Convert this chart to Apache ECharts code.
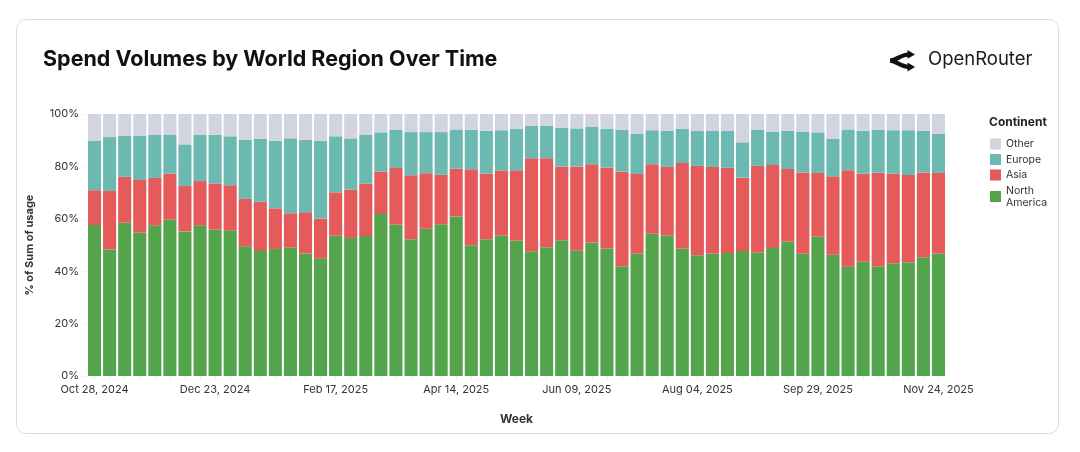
<!DOCTYPE html>
<html>
<head>
<meta charset="utf-8">
<script src="https://cdn.jsdelivr.net/npm/echarts@6/dist/echarts.min.js"></script>
<style>
  html, body { margin: 0; padding: 0; background: #ffffff; }
  #card { position: absolute; left: 16px; top: 19px; width: 1041px; height: 413px;
          border: 1px solid #dcdde0; border-radius: 10px; background: #fff; }
  #chart { position: absolute; left: 0; top: 0; width: 1080px; height: 452px; }
</style>
</head>
<body>
<div id="card"></div>
<div id="chart"></div>
<script>
const weeks = [
  'Oct 28, 2024','Nov 04, 2024','Nov 11, 2024','Nov 18, 2024','Nov 25, 2024','Dec 02, 2024','Dec 09, 2024','Dec 16, 2024',
  'Dec 23, 2024','Dec 30, 2024','Jan 06, 2025','Jan 13, 2025','Jan 20, 2025','Jan 27, 2025','Feb 03, 2025','Feb 10, 2025',
  'Feb 17, 2025','Feb 24, 2025','Mar 03, 2025','Mar 10, 2025','Mar 17, 2025','Mar 24, 2025','Mar 31, 2025','Apr 07, 2025',
  'Apr 14, 2025','Apr 21, 2025','Apr 28, 2025','May 05, 2025','May 12, 2025','May 19, 2025','May 26, 2025','Jun 02, 2025',
  'Jun 09, 2025','Jun 16, 2025','Jun 23, 2025','Jun 30, 2025','Jul 07, 2025','Jul 14, 2025','Jul 21, 2025','Jul 28, 2025',
  'Aug 04, 2025','Aug 11, 2025','Aug 18, 2025','Aug 25, 2025','Sep 01, 2025','Sep 08, 2025','Sep 15, 2025','Sep 22, 2025',
  'Sep 29, 2025','Oct 06, 2025','Oct 13, 2025','Oct 20, 2025','Oct 27, 2025','Nov 03, 2025','Nov 10, 2025','Nov 17, 2025',
  'Nov 24, 2025'
];
const northAmerica = [57.6,48.3,58.5,54.7,57.5,59.7,55.2,57.5,55.9,55.6,49.5,47.7,48.5,49.0,46.7,44.9,53.6,52.7,53.4,61.8,
  57.8,52.2,56.2,57.9,60.9,49.9,52.2,53.6,51.7,47.6,49.1,51.8,47.8,51.0,48.7,41.9,46.8,54.3,53.6,48.7,
  46.1,46.8,46.9,47.7,47.1,48.9,51.3,46.7,53.2,46.3,41.7,43.6,41.9,43.0,43.4,45.3,46.8];
const asia = [13.3,22.3,17.5,20.1,18.1,17.5,17.3,16.9,17.6,17.2,18.1,18.8,15.5,13.1,15.8,15.2,16.5,18.4,20.0,16.2,
  21.6,24.4,21.2,18.9,18.2,29.0,25.0,24.8,26.8,35.5,34.0,28.2,32.2,29.8,30.8,36.1,30.3,26.5,26.2,32.6,
  34.1,33.0,32.6,28.0,33.1,31.6,27.7,31.0,24.3,29.9,36.8,33.6,35.7,34.2,33.3,32.4,30.7];
const europe = [18.8,20.6,15.6,16.8,16.4,14.8,15.9,17.6,18.6,18.7,22.5,24.0,25.8,28.6,27.6,29.7,21.4,19.6,18.6,15.0,
  14.5,16.5,15.7,16.3,15.0,15.1,16.4,15.4,15.8,12.4,12.4,14.7,14.5,14.4,14.9,16.0,15.3,13.0,13.8,13.0,
  13.3,13.7,14.1,13.5,13.7,12.8,14.6,15.6,15.5,14.4,15.6,16.4,16.4,16.6,17.1,15.9,14.9];
const other = [10.3,8.8,8.4,8.4,8.0,8.0,11.6,8.0,7.9,8.5,9.9,9.5,10.2,9.3,9.9,10.2,8.5,9.3,8.0,7.0,
  6.1,6.9,6.9,6.9,5.9,6.0,6.4,6.2,5.7,4.5,4.5,5.3,5.5,4.8,5.6,6.0,7.6,6.2,6.4,5.7,
  6.5,6.5,6.4,10.8,6.1,6.7,6.4,6.7,7.0,9.4,5.9,6.4,6.0,6.2,6.2,6.4,7.6];
const yTicks = [0, 20, 40, 60, 80, 100];

const FONT = 'Inter, "Noto Sans", sans-serif';
const colors = { 'North America': '#54a44b', 'Asia': '#e55a5a', 'Europe': '#6cb9b1', 'Other': '#d2d5e0' };

function barSeries(name, data) {
  return {
    name, type: 'bar', stack: 'total', data,
    barCategoryGap: '13%',
    itemStyle: { color: colors[name] },
    emphasis: { disabled: true }
  };
}

const chart = echarts.init(document.getElementById('chart'), null, { renderer: 'canvas' });
chart.setOption({
  backgroundColor: 'transparent',
  animation: false,
  textStyle: { fontFamily: FONT },
  title: {
    text: 'Spend Volumes by World Region Over Time',
    left: 43, top: 49, padding: 0,
    textStyle: { fontFamily: FONT, fontSize: 21.5, fontWeight: 'bold', color: '#111' }
  },
  legend: {
    orient: 'vertical', left: 990, top: 138, padding: 0,
    itemWidth: 11, itemHeight: 11, itemGap: 3.5,
    icon: 'rect',
    data: ['Other', 'Europe', 'Asia', 'North America'],
    formatter: n => n === 'North America' ? 'North\nAmerica' : n,
    textStyle: { fontFamily: FONT, fontSize: 10.5, color: '#333', lineHeight: 12 }
  },
  graphic: [
    { type: 'text', x: 989, y: 116,
      style: { text: 'Continent', font: 'bold 12px ' + FONT, fill: '#222' } },
    { type: 'bezierCurve',
      shape: { x1: 890.2, y1: 60.6, cpx1: 897, cpy1: 60.4, cpx2: 900, cpy2: 54.4, x2: 910.5, y2: 54.4 },
      style: { fill: null, stroke: '#111', lineWidth: 4.3 } },
    { type: 'bezierCurve',
      shape: { x1: 890.2, y1: 60.7, cpx1: 897, cpy1: 60.9, cpx2: 900, cpy2: 67.0, x2: 910.5, y2: 67.0 },
      style: { fill: null, stroke: '#111', lineWidth: 4.3 } },
    { type: 'polygon', shape: { points: [[915, 54.4], [907.5, 50.0], [907.5, 58.8]] }, style: { fill: '#111' } },
    { type: 'polygon', shape: { points: [[915, 67.0], [907.5, 62.6], [907.5, 71.4]] }, style: { fill: '#111' } },
    { type: 'text', x: 928, y: 50,
      style: { text: 'OpenRouter', font: '18.5px ' + FONT, fill: '#1a1a1a' } }
  ],
  grid: { left: 87, right: 134, top: 114, bottom: 76, containLabel: false },
  xAxis: {
    type: 'category', data: weeks,
    name: 'Week', nameLocation: 'middle', nameGap: 37,
    nameTextStyle: { fontFamily: FONT, fontSize: 12, fontWeight: 'bold', color: '#333' },
    axisLine: { show: false },
    axisTick: { show: true, interval: 0, alignWithLabel: true, length: 4, lineStyle: { color: '#eeeeee' } },
    axisLabel: { interval: 7, margin: 8, fontSize: 11, color: '#333', fontFamily: FONT },
    splitLine: { show: false }
  },
  yAxis: {
    type: 'value', min: 0, max: 100, interval: 20,
    name: '% of Sum of usage', nameLocation: 'middle', nameGap: 52, nameRotate: 90,
    nameTextStyle: { fontFamily: FONT, fontSize: 11, fontWeight: 'bold', color: '#333' },
    axisLine: { show: false },
    axisTick: { show: true, length: 4, lineStyle: { color: '#eeeeee' } },
    axisLabel: { formatter: v => yTicks.includes(v) ? v + '%' : '', margin: 8, fontSize: 11, color: '#333', fontFamily: FONT },
    splitLine: { show: false }
  },
  series: [
    barSeries('North America', northAmerica),
    barSeries('Asia', asia),
    barSeries('Europe', europe),
    barSeries('Other', other)
  ]
});
</script>
</body>
</html>
